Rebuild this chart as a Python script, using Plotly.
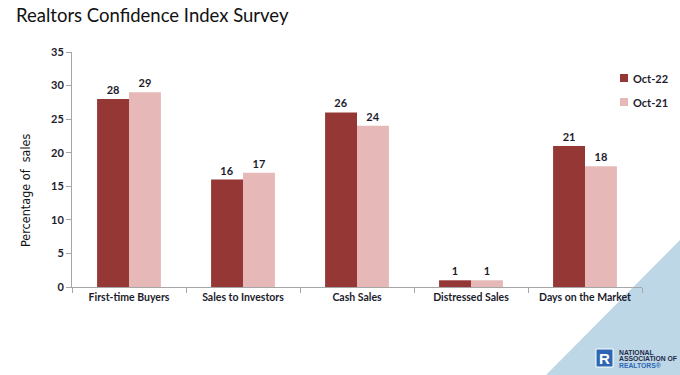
import plotly.graph_objects as go

categories = ["First-time Buyers", "Sales to Investors", "Cash Sales", "Distressed Sales", "Days on the Market"]
series_names = ["Oct-22", "Oct-21"]
oct22 = [28, 16, 26, 1, 21]
oct21 = [29, 17, 24, 1, 18]
y_ticks = [0, 5, 10, 15, 20, 25, 30, 35]

dark = "#953735"
light = "#e6b9b8"
txt = "#1c1c2c"
fnt = "Lato"

fig = go.Figure()
for name, vals, col in [(series_names[0], oct22, dark), (series_names[1], oct21, light)]:
    fig.add_trace(go.Bar(
        x=categories, y=vals, name=name, marker=dict(color=col, line=dict(width=0)),
        text=vals, textposition="outside", cliponaxis=False, hoverinfo="skip",
        textfont=dict(family=fnt, size=11, color=txt, weight="bold"),
    ))

# plot area in pixels: x 72..642, y 52..287
W, H = 680, 375
L, R, T, B = 72, 38, 52, 88
pw, ph = W - L - R, H - T - B
def px(x): return (x - L) / pw
def py(y): return (H - B - y) / ph

shapes = []
# background triangle
shapes.append(dict(type="path", xref="paper", yref="paper", layer="below",
                   path=f"M {px(680)},{py(240)} L {px(546)},{py(375)} L {px(680)},{py(375)} Z",
                   fillcolor="#bdd7e7", line=dict(width=0)))
# legend markers (manual)
for i, (name, col) in enumerate(zip(series_names, [dark, light])):
    yc = 78 + 24 * i
    shapes.append(dict(type="rect", xref="paper", yref="paper",
                       x0=px(620), x1=px(628), y0=py(yc - 4), y1=py(yc + 4),
                       fillcolor=col, line=dict(width=0)))
# logo square
shapes.append(dict(type="rect", xref="paper", yref="paper",
                   x0=px(596), x1=px(613), y0=py(367), y1=py(349),
                   fillcolor="#2e66b5", line=dict(width=1, color="white")))

annotations = []
for i, name in enumerate(series_names):
    yc = 78 + 24 * i
    annotations.append(dict(xref="paper", yref="paper", x=px(631), y=py(yc), text=f"<b>{name}</b>",
                            showarrow=False, xanchor="left", yanchor="middle",
                            font=dict(family=fnt, size=11, color=txt)))
annotations.append(dict(xref="paper", yref="paper", x=px(604.5), y=py(358), text="<b>R</b>",
                        showarrow=False, xanchor="center", yanchor="middle",
                        font=dict(family="Liberation Sans", size=15, color="white")))
for t, yv, c in [("NATIONAL", 352, "#1e2a4a"), ("ASSOCIATION OF", 358.5, "#1e2a4a"), ("REALTORS&#174;", 365, "#2e66b5")]:
    annotations.append(dict(xref="paper", yref="paper", x=px(617), y=py(yv), text=f"<b>{t}</b>",
                            showarrow=False, xanchor="left", yanchor="middle",
                            font=dict(family="Liberation Sans", size=6.8, color=c)))
# y-axis title (placed as annotation to match its off-centre position)
annotations.append(dict(xref="paper", yref="paper", x=px(25), y=py(190), text="Percentage of  sales",
                        textangle=-90, showarrow=False, xanchor="center", yanchor="middle",
                        font=dict(family="DejaVu Sans Condensed", size=12.5, color="#111111")))

fig.update_layout(
    width=W, height=H, margin=dict(l=L, r=R, t=T, b=B),
    paper_bgcolor="white", plot_bgcolor="rgba(0,0,0,0)",
    barmode="group", bargap=0.44, bargroupgap=0.0,
    showlegend=False,
    title=dict(text="Realtors Confidence Index Survey", x=16 / W, xanchor="left",
               y=1 - 16 / H, yanchor="middle",
               font=dict(family=fnt, size=18.5, color="#111111")),
    xaxis=dict(showline=True, linecolor="#a6a6a6", linewidth=1, ticks="outside",
               tickson="boundaries", tickcolor="#a6a6a6", ticklen=5,
               tickfont=dict(family=fnt, size=10.5, color=txt, weight="bold"), showgrid=False),
    yaxis=dict(range=[0, 35], tickvals=y_ticks, showline=True, linecolor="#a6a6a6", linewidth=1,
               ticks="outside", tickcolor="#a6a6a6", ticklen=5, showgrid=False, zeroline=False,
               tickfont=dict(family=fnt, size=11, color=txt, weight="bold")),
    shapes=shapes, annotations=annotations,
)
fig.write_html("out.html", config={"displayModeBar": False},
               post_script="document.body.style.margin='0';document.body.style.overflow='hidden';")
